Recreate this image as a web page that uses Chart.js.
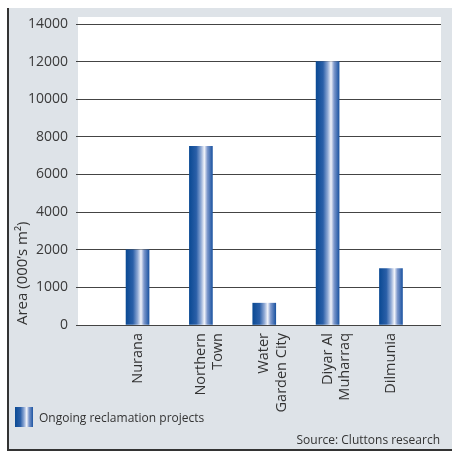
<!DOCTYPE html>
<html>
<head>
<meta charset="utf-8">
<script src="https://cdn.jsdelivr.net/npm/chart.js@4"></script>
<style>
  body { margin: 0; background: #fff; }
  #wrap { position: relative; width: 452px; height: 452px; overflow: hidden; font-family: 'Open Sans', sans-serif; }
  #panel { position: absolute; left: 7px; top: 8px; width: 445px; height: 443px; background: #dee3e8;
           border-left: 2px solid #333; border-bottom: 2px solid #333; box-sizing: border-box; }
  #chart { position: absolute; left: 0; top: 0; }
  #legend { position: absolute; left: 15px; top: 407px; display: flex; align-items: center; font-size: 12px; color: #333; }
  #legend span { display: inline-block; width: 18px; height: 20px; margin-right: 6px;
    background: linear-gradient(to right, #0b4a94 0%, #2a5fa8 30%, #8ea8d4 50%, #f2f4fa 65%, #7d98cc 78%, #1d55a2 100%); }
  #source { position: absolute; right: 12px; top: 431px; font-size: 12px; color: #333; }
</style>
</head>
<body>
<div id="wrap">
  <div id="panel"></div>
  <canvas id="chart" width="452" height="452"></canvas>
  <div id="legend"><span></span>Ongoing reclamation projects</div>
  <div id="source">Source: Cluttons research</div>
</div>
<script>
const categories = [['Nurana'], ['Northern', 'Town'], ['Water', 'Garden City'], ['Diyar Al', 'Muharraq'], ['Dilmunia']];
const areaValues = [2000, 7500, 580, 12000, 1500];
const yTickValues = [0, 1000, 2000, 4000, 6000, 8000, 10000, 12000, 14000];

// the y axis in the source spaces its ticks evenly even though the steps differ
function toStep(v) {
  for (let i = 1; i < yTickValues.length; i++) {
    if (v <= yTickValues[i]) {
      return i - 1 + (v - yTickValues[i - 1]) / (yTickValues[i] - yTickValues[i - 1]);
    }
  }
  return yTickValues.length - 1;
}
function fromStep(s) {
  const i = Math.max(0, Math.min(yTickValues.length - 2, Math.floor(s)));
  return yTickValues[i] + (s - i) * (yTickValues[i + 1] - yTickValues[i]);
}

class StepScale extends Chart.LinearScale {
  buildTicks() {
    return yTickValues.map(v => ({ value: v }));
  }
  getPixelForValue(v) {
    if (v === null || v === undefined) return NaN;
    return this.getPixelForDecimal(toStep(v) / (yTickValues.length - 1));
  }
  getValueForPixel(p) {
    return fromStep(this.getDecimalForPixel(p) * (yTickValues.length - 1));
  }
}
StepScale.id = 'step';
StepScale.defaults = Chart.LinearScale.defaults;
Chart.register(StepScale);

Chart.defaults.font.family = "'Open Sans', sans-serif";
Chart.defaults.color = '#333';

const plotBackground = {
  id: 'plotBackground',
  beforeDraw(chart) {
    const { ctx, chartArea } = chart;
    ctx.save();
    ctx.fillStyle = '#fff';
    ctx.fillRect(chartArea.left, chartArea.top - 7, chartArea.right - chartArea.left, chartArea.bottom - chartArea.top + 7);
    ctx.restore();
  }
};

function barGradient(context) {
  const chart = context.chart;
  const x = chart.scales.x;
  if (!x || x.width === undefined) return '#0b4a94';
  const cx = x.getPixelForValue(context.dataIndex + 1);
  const g = chart.ctx.createLinearGradient(cx - 11.5, 0, cx + 11.5, 0);
  g.addColorStop(0, '#0b4a94');
  g.addColorStop(0.3, '#2a5fa8');
  g.addColorStop(0.5, '#8ea8d4');
  g.addColorStop(0.65, '#f2f4fa');
  g.addColorStop(0.78, '#7d98cc');
  g.addColorStop(1, '#1d55a2');
  return g;
}

new Chart(document.getElementById('chart'), {
  type: 'bar',
  data: {
    datasets: [{
      label: 'Ongoing reclamation projects',
      data: areaValues.map((v, i) => ({ x: i + 1, y: v })),
      backgroundColor: barGradient,
      barThickness: 23,
      borderWidth: 0
    }]
  },
  plugins: [plotBackground],
  options: {
    responsive: false,
    animation: false,
    layout: { padding: { top: 24, right: 11, left: 0, bottom: 0 } },
    plugins: { legend: { display: false }, tooltip: { enabled: false } },
    scales: {
      x: {
        type: 'linear',
        offset: false,
        min: 0.06,
        max: 5.79,
        afterBuildTicks: s => { s.ticks = categories.map((c, i) => ({ value: i + 1 })); },
        afterFit: s => { s.height = 127; },
        grid: { display: false, drawTicks: false, offset: false },
        border: { display: false },
        ticks: {
          autoSkip: false,
          minRotation: 90,
          maxRotation: 90,
          padding: 8,
          font: { size: 14.5 },
          color: '#333',
          callback: v => categories[v - 1]
        }
      },
      y: {
        type: 'step',
        min: 0,
        max: 14000,
        afterFit: s => { s.width = 78; },
        border: { display: false },
        grid: { color: '#444', lineWidth: 1, tickLength: 2 },
        ticks: { padding: 8, font: { size: 14 }, color: '#3a3a3a', callback: v => String(v) },
        title: {
          display: true,
          text: 'Area (000\u2019s m\u00b2)',
          align: 'start',
          font: { size: 15 },
          color: '#333',
          padding: { top: 14, bottom: 0 }
        }
      }
    }
  }
});
</script>
</body>
</html>
